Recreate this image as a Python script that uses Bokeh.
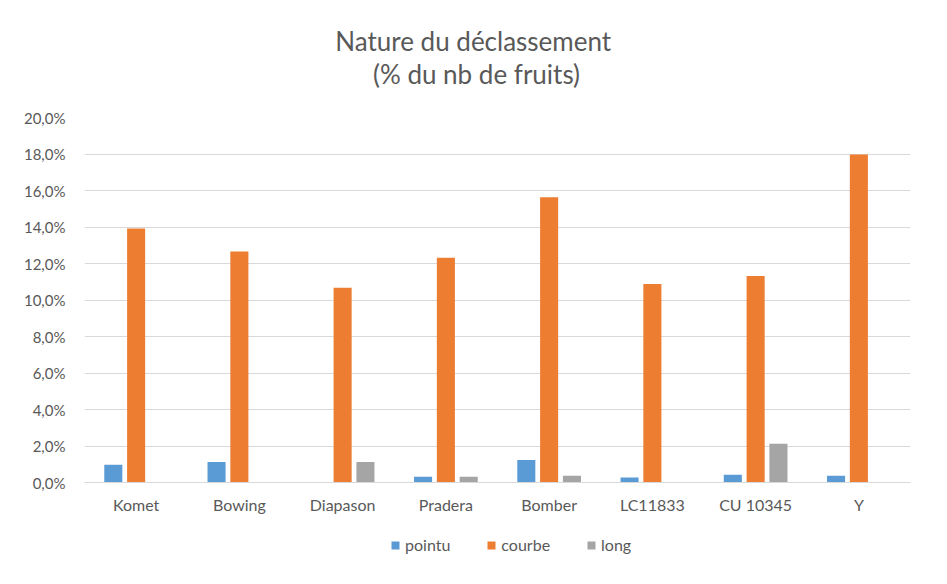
from bokeh.plotting import figure
from bokeh.layouts import column
from bokeh.models import (ColumnDataSource, FactorRange, Range1d, CustomJSTickFormatter,
                          Legend, LegendItem, Label, FixedTicker)
from bokeh.transform import dodge
from bokeh.embed import file_html
from bokeh.resources import INLINE

categories = ["Komet", "Bowing", "Diapason", "Pradera", "Bomber", "LC11833", "CU 10345", "Y"]
pointu = [0.0097, 0.0112, 0.0, 0.0032, 0.0123, 0.0027, 0.0043, 0.0037]
courbe = [0.1392, 0.1266, 0.1067, 0.1232, 0.1563, 0.1088, 0.1131, 0.1797]
long_ = [0.0, 0.0, 0.0112, 0.0032, 0.0037, 0.0, 0.0213, 0.0]
y_ticks = [0.0, 0.02, 0.04, 0.06, 0.08, 0.10, 0.12, 0.14, 0.16, 0.18, 0.20]

series = ["pointu", "courbe", "long"]
colors = ["#5B9BD5", "#ED7D31", "#A5A5A5"]
title_lines = ["Nature  du déclassement", "(% du nb de fruits)"]

FONT = "Lato"
TXT = "#595959"
W = 931


def strip(height):
    f = figure(width=W, height=height, output_backend="svg", toolbar_location=None,
               x_range=Range1d(0, 1), y_range=Range1d(0, 1),
               min_border_left=84, min_border_right=21, min_border_top=0, min_border_bottom=0)
    f.axis.visible = False
    f.grid.visible = False
    f.outline_line_color = None
    return f


# title strip
tt = strip(105)
for txt, yy in zip(title_lines, [65, 32]):
    tt.add_layout(Label(x=392, y=yy, x_units="screen", y_units="screen", text=txt,
                        text_align="center", text_baseline="middle", text_font=FONT,
                        text_font_size="26px", text_color=TXT))

# main chart
src = ColumnDataSource(dict(cat=categories, pointu=pointu, courbe=courbe, long=long_))
p = figure(x_range=FactorRange(*categories), y_range=Range1d(0, 0.20),
           width=W, height=415, output_backend="svg", toolbar_location=None,
           min_border_left=84, min_border_right=21, min_border_top=12, min_border_bottom=38)

offsets = [-0.221, 0.0, 0.221]
for s, c, off in zip(series, colors, offsets):
    p.vbar(x=dodge("cat", off, range=p.x_range), top=s, width=0.175, source=src,
           fill_color=c, line_color=None)

p.outline_line_color = None
p.xgrid.grid_line_color = None
p.ygrid.grid_line_color = "#D9D9D9"
p.ygrid.grid_line_width = 1

p.yaxis.ticker = FixedTicker(ticks=y_ticks)
p.yaxis.formatter = CustomJSTickFormatter(code="return (tick*100).toFixed(1).replace('.', ',') + '%';")
p.yaxis.axis_line_color = None
p.yaxis.major_tick_line_color = None
p.yaxis.minor_tick_line_color = None
p.yaxis.major_label_text_font = FONT
p.yaxis.major_label_text_font_size = "15px"
p.yaxis.major_label_text_color = TXT
p.yaxis.major_label_standoff = 13

p.xaxis.axis_line_color = "#D9D9D9"
p.xaxis.major_tick_line_color = None
p.xaxis.minor_tick_line_color = None
p.xaxis.major_label_text_font = FONT
p.xaxis.major_label_text_font_size = "16px"
p.xaxis.major_label_text_color = TXT
p.xaxis.major_label_standoff = 6

# legend strip (zero-height proxy bars only carry the legend colours)
lg = strip(48)
lrs = []
for s, c in zip(series, colors):
    lrs.append(lg.vbar(x=[0.5], top=[0], bottom=[0], width=0.0, fill_color=c, line_color=None))
legend = Legend(items=[LegendItem(label=s, renderers=[r]) for s, r in zip(series, lrs)],
                orientation="horizontal", location=(306, 14),
                label_text_font=FONT, label_text_font_size="16px", label_text_color=TXT,
                glyph_width=10, glyph_height=10, spacing=36, label_standoff=5,
                border_line_color=None, background_fill_alpha=0, padding=0, margin=0)
lg.add_layout(legend, "center")

layout = column(tt, p, lg, spacing=0)
open("out.html", "w").write(file_html(layout, INLINE))
